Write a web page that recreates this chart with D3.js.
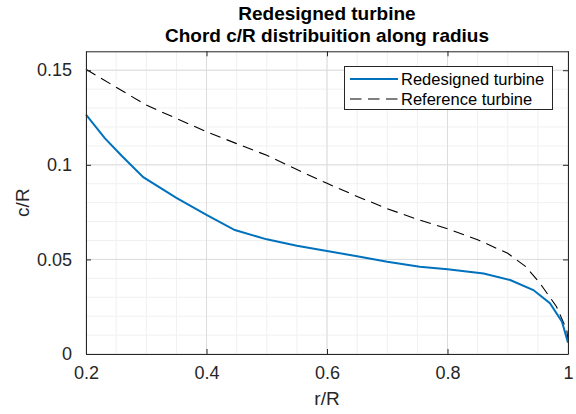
<!DOCTYPE html>
<html>
<head>
<meta charset="utf-8">
<script src="https://cdn.jsdelivr.net/npm/d3@7"></script>
<style>
  html, body { margin: 0; padding: 0; background: #fff; }
  svg { display: block; font-family: "Liberation Sans", Arial, Helvetica, sans-serif; }
</style>
</head>
<body>
<svg id="chart" width="576" height="414"></svg>
<script>
// ---- data ----
const titleLines = ["Redesigned turbine", "Chord c/R distribuition along radius"];
const xLabel = "r/R";
const yLabel = "c/R";
const seriesNames = ["Redesigned turbine", "Reference turbine"];

const redesignedX = [0.2, 0.2315, 0.26, 0.295, 0.35, 0.40, 0.447, 0.50, 0.55, 0.60, 0.65, 0.70, 0.754, 0.80, 0.86, 0.904, 0.9425, 0.97, 0.99, 1.0];
const redesignedY = [0.1265, 0.114, 0.1045, 0.0935, 0.0825, 0.0735, 0.0655, 0.0606, 0.0572, 0.0544, 0.0517, 0.0488, 0.0461, 0.0448, 0.0426, 0.0391, 0.0338, 0.0268, 0.0171, 0.006];

const referenceX = [0.2, 0.25, 0.3, 0.35, 0.4, 0.45, 0.5, 0.55, 0.6, 0.65, 0.7, 0.75, 0.8, 0.85, 0.9, 0.93, 0.9535, 0.981, 0.998, 1.0];
const referenceY = [0.1505, 0.141, 0.1316, 0.1245, 0.1175, 0.1112, 0.1050, 0.0975, 0.0902, 0.0833, 0.0768, 0.0712, 0.0662, 0.0604, 0.0532, 0.0462, 0.0374, 0.025, 0.0127, 0.007];

const xTicks = [0.2, 0.4, 0.6, 0.8, 1.0];
const xTickLabels = ["0.2", "0.4", "0.6", "0.8", "1"];
const yTicks = [0, 0.05, 0.1, 0.15];
const yTickLabels = ["0", "0.05", "0.1", "0.15"];
const xMinor = d3.range(0.2, 1.0001, 0.05);
const yMinor = d3.range(0, 0.16001, 0.01);

// ---- layout ----
const svg = d3.select("#chart");
const L = 86, R = 568, T = 51.3, B = 354;
const x = d3.scaleLinear().domain([0.2, 1]).range([L, R]);
const y = d3.scaleLinear().domain([0, 0.16]).range([B, T]);
const axisColor = "#262626";

// minor grid
const g = svg.append("g");
g.selectAll(".mx").data(xMinor).join("line")
  .attr("x1", d => x(d)).attr("x2", d => x(d)).attr("y1", T).attr("y2", B)
  .attr("stroke", "#f0f0f0").attr("stroke-width", 1);
g.selectAll(".my").data(yMinor).join("line")
  .attr("y1", d => y(d)).attr("y2", d => y(d)).attr("x1", L).attr("x2", R)
  .attr("stroke", "#f0f0f0").attr("stroke-width", 1);
// major grid
g.selectAll(".gx").data(xTicks).join("line")
  .attr("x1", d => x(d)).attr("x2", d => x(d)).attr("y1", T).attr("y2", B)
  .attr("stroke", "#dcdcdc").attr("stroke-width", 1);
g.selectAll(".gy").data(yTicks).join("line")
  .attr("y1", d => y(d)).attr("y2", d => y(d)).attr("x1", L).attr("x2", R)
  .attr("stroke", "#dcdcdc").attr("stroke-width", 1);

// lines
const lineGen = d3.line().x(d => x(d[0])).y(d => y(d[1]));
const redData = redesignedX.map((v, i) => [v, redesignedY[i]]);
const refData = referenceX.map((v, i) => [v, referenceY[i]]);

svg.append("path").datum(refData).attr("d", lineGen)
  .attr("fill", "none").attr("stroke", "#000").attr("stroke-width", 1.1)
  .attr("stroke-dasharray", "11,6.5");
svg.append("path").datum(redData).attr("d", lineGen)
  .attr("fill", "none").attr("stroke", "#0072BD").attr("stroke-width", 2);

// axes (box with inward ticks)
const tickLen = 5;
const xAxisB = d3.axisBottom(x).tickValues(xTicks).tickFormat((d, i) => xTickLabels[i]).tickSizeInner(-tickLen).tickSizeOuter(0).tickPadding(12);
const xAxisT = d3.axisTop(x).tickValues(xTicks).tickFormat("").tickSizeInner(-tickLen).tickSizeOuter(0);
const yAxisL = d3.axisLeft(y).tickValues(yTicks).tickFormat((d, i) => yTickLabels[i]).tickSizeInner(-tickLen).tickSizeOuter(0).tickPadding(14);
const yAxisR = d3.axisRight(y).tickValues(yTicks).tickFormat("").tickSizeInner(-tickLen).tickSizeOuter(0);

function styleAxis(sel) {
  sel.select(".domain").attr("stroke", axisColor).attr("stroke-width", 1);
  sel.selectAll(".tick line").attr("stroke", axisColor).attr("stroke-width", 1);
  sel.selectAll(".tick text").attr("fill", axisColor).style("font-size", "18px")
    .style("font-family", "'Liberation Sans', Arial, sans-serif");
}
svg.append("g").attr("transform", `translate(0,${B})`).call(xAxisB).call(styleAxis);
svg.append("g").attr("transform", `translate(0,${T})`).call(xAxisT).call(styleAxis);
svg.append("g").attr("transform", `translate(${L},0)`).call(yAxisL).call(styleAxis);
svg.append("g").attr("transform", `translate(${R},0)`).call(yAxisR).call(styleAxis);

// axis labels
svg.append("text").attr("x", (L + R) / 2).attr("y", 405).attr("text-anchor", "middle")
  .attr("fill", axisColor).style("font-size", "19px").text(xLabel);
svg.append("text").attr("transform", `translate(29,${(T + B) / 2}) rotate(-90)`)
  .attr("text-anchor", "middle").attr("fill", axisColor).style("font-size", "19px").text(yLabel);

// title
svg.append("text").attr("x", (L + R) / 2).attr("y", 19.5).attr("text-anchor", "middle")
  .attr("fill", "#000").style("font-size", "19px").style("font-weight", "bold").text(titleLines[0]);
svg.append("text").attr("x", (L + R) / 2).attr("y", 41.5).attr("text-anchor", "middle")
  .attr("fill", "#000").style("font-size", "19px").style("font-weight", "bold").text(titleLines[1]);

// legend
const lg = svg.append("g");
lg.append("rect").attr("x", 344.5).attr("y", 66.5).attr("width", 208).attr("height", 43)
  .attr("fill", "#fff").attr("stroke", axisColor).attr("stroke-width", 1);
const legendRows = [
  { name: seriesNames[0], color: "#0072BD", width: 2, dash: null, cy: 79 },
  { name: seriesNames[1], color: "#000", width: 1.1, dash: "11.5,6.5", cy: 99 }
];
legendRows.forEach(r => {
  lg.append("line").attr("x1", 350).attr("x2", 398).attr("y1", r.cy).attr("y2", r.cy)
    .attr("stroke", r.color).attr("stroke-width", r.width)
    .attr("stroke-dasharray", r.dash);
  lg.append("text").attr("x", 401).attr("y", r.cy).attr("dy", "0.35em")
    .attr("fill", "#000").style("font-size", "16.5px").text(r.name);
});
</script>
</body>
</html>
